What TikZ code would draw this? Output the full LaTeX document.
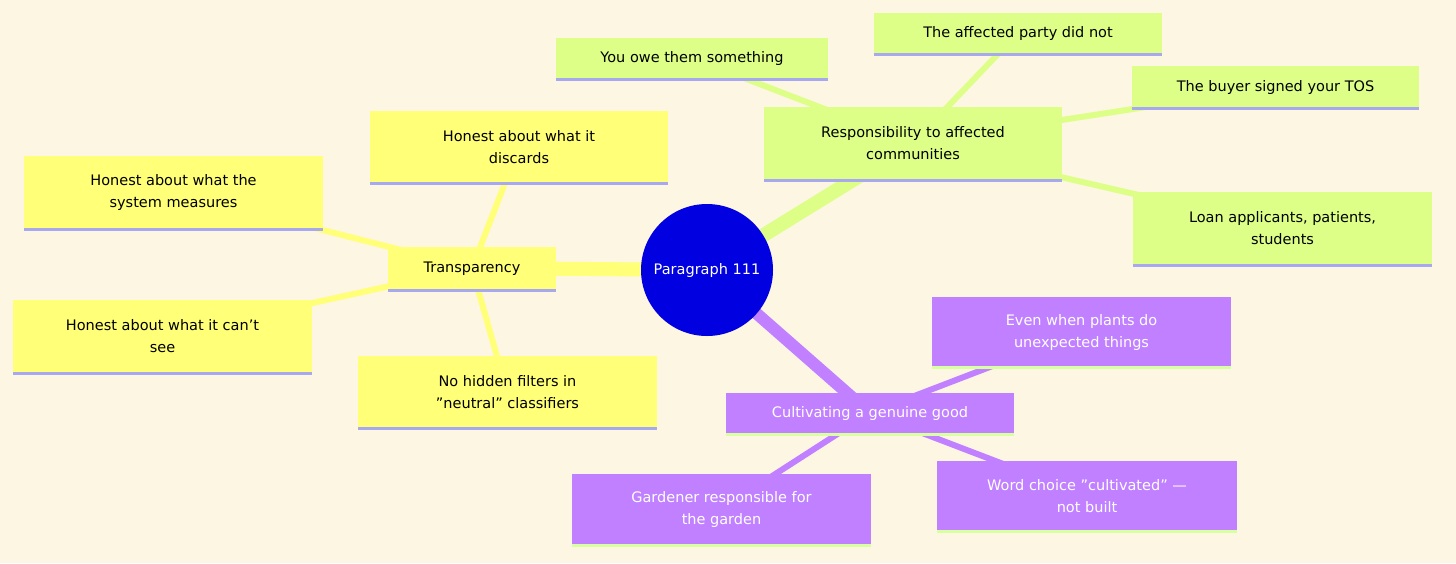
\documentclass[tikz,border=0pt]{standalone}
\usepackage{fontspec}
\setmainfont{DejaVu Sans}
\definecolor{bg}{HTML}{FDF6E3}
\definecolor{yel}{HTML}{FFFF78}
\definecolor{grn}{HTML}{DDFF88}
\definecolor{pur}{HTML}{C080FF}
\definecolor{lav}{HTML}{A8A8F0}
\definecolor{lgr}{HTML}{D8FFA0}
\definecolor{rootc}{HTML}{0000E0}
\definecolor{yedge}{HTML}{FFFF78}
\definecolor{gedge}{HTML}{DDFF88}
\definecolor{pedge}{HTML}{C080FF}
\tikzset{
 box/.style={rectangle,inner sep=0pt,align=center,font=\fontsize{14.5}{22}\selectfont},
 yb/.style={box,fill=yel,text=black},
 gb/.style={box,fill=grn,text=black},
 pb/.style={box,fill=pur,text=white},
}
\newcommand{\bx}[7]{% name style x1 y1 x2 y2 text
 \node[#2,minimum width=#5pt-#3pt,minimum height=#6pt-#4pt] (#1) at ({(#3+#5)/2},{(#4+#6)/2}) {#7};}
\begin{document}
\begin{tikzpicture}[x=1pt,y=-1pt]
\fill[bg] (0,0) rectangle (1456,563);
\useasboundingbox (0,0) rectangle (1456,563);
% node placeholders for edges
\coordinate (root) at (707,270);
\coordinate (t) at (472,268);
\coordinate (r) at (913,143);
\coordinate (c) at (870,413);
% edges
\draw[yedge,line width=14pt] (root) -- (t);
\draw[gedge,line width=14pt] (root) -- (r);
\draw[pedge,line width=12pt] (root) -- (c);
\foreach \p in {(173,192),(162,336),(519,147),(507,392)} \draw[yedge,line width=6pt] (t) -- \p;
\foreach \p in {(692,58),(1018,33),(1275,87),(1282,228)} \draw[gedge,line width=6pt] (r) -- \p;
\foreach \p in {(1081,332),(1087,496),(721,509)} \draw[pedge,line width=6pt] (c) -- \p;
% root
\node[circle,fill=rootc,minimum size=132pt,text=white,font=\fontsize{14.5}{18}\selectfont] (rootn) at (root) {Paragraph 111};
\bx{tn}{yb}{388}{247}{556}{290}{Transparency}
\bx{t1}{yb}{24}{156}{323}{229}{Honest about what the\\system measures}
\bx{t2}{yb}{13}{300}{312}{373}{Honest about what it can't\\see}
\bx{t3}{yb}{370}{111}{668}{183}{Honest about what it\\discards}
\bx{t4}{yb}{358}{356}{657}{428}{No hidden filters in\\"neutral" classifiers}
\bx{rn}{gb}{764}{107}{1062}{180}{Responsibility to affected\\communities}
\bx{r1}{gb}{556}{38}{828}{79}{You owe them something}
\bx{r2}{gb}{874}{13}{1162}{54}{The affected party did not}
\bx{r3}{gb}{1132}{66}{1419}{108}{The buyer signed your TOS}
\bx{r4}{gb}{1133}{192}{1432}{265}{Loan applicants, patients,\\students}
\bx{cn}{pb}{726}{393}{1014}{434}{Cultivating a genuine good}
\bx{c1}{pb}{932}{297}{1231}{367}{Even when plants do\\unexpected things}
\bx{c2}{pb}{937}{461}{1237}{531}{Word choice "cultivated" —\\not built}
\bx{c3}{pb}{572}{474}{871}{545}{Gardener responsible for\\the garden}
\foreach \n in {tn,t1,t2,t3,t4,rn,r1,r2,r3,r4} \draw[lav,line width=3pt] (\n.south west) -- (\n.south east);
\foreach \n in {cn,c1,c2,c3} \draw[lgr,line width=3pt] (\n.south west) -- (\n.south east);
\end{tikzpicture}
\end{document}
